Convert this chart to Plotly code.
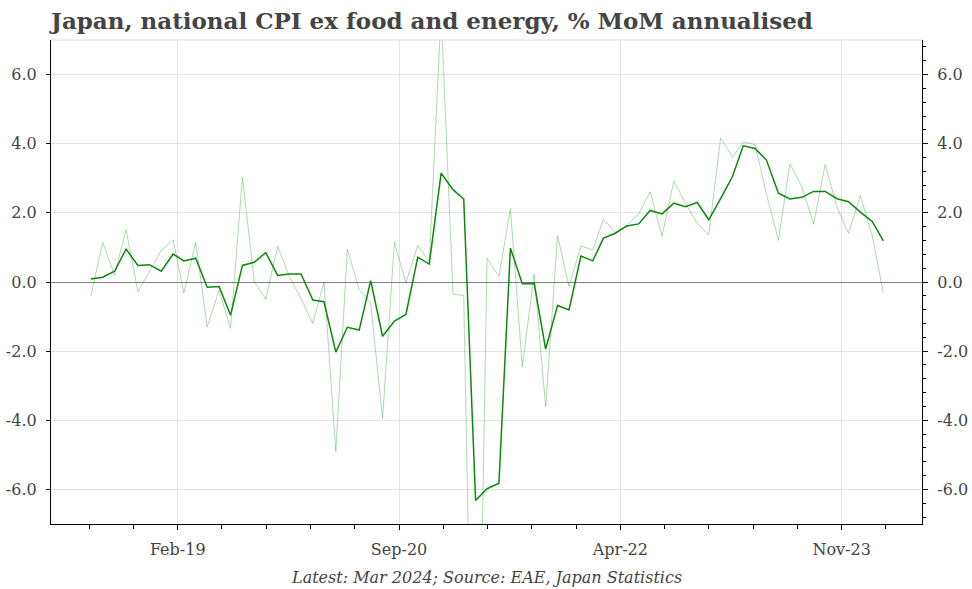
import pandas as pd
import plotly.graph_objects as go

# Monthly data, Jul 2018 .. Mar 2024
start_month = "2018-07-01"
n_months = 69
months = pd.date_range(start_month, periods=n_months, freq="MS")

mom_annualised = [
    -0.41, 1.15, 0.20, 1.51, -0.28, 0.30, 0.91, 1.22, -0.32, 1.15,
    -1.30, -0.24, -1.34, 3.03, 0.02, -0.50, 1.03, 0.17, -0.48, -1.20,
    0.01, -4.90, 0.95, -0.22, -0.60, -3.95, 1.15, -0.02, 1.06, 0.59,
    7.80, -0.35, -0.39, -18.4, 0.69, 0.16, 2.12, -2.45, 0.23, -3.61,
    1.34, -0.12, 1.04, 0.93, 1.82, 1.44, 1.64, 1.97, 2.61, 1.33,
    2.93, 2.28, 1.70, 1.36, 4.17, 3.61, 4.05, 3.97, 2.54, 1.20,
    3.42, 2.76, 1.67, 3.39, 2.17, 1.41, 2.50, 1.34, -0.31,
]
three_month_avg = [
    0.09, 0.14, 0.31, 0.95, 0.48, 0.50, 0.31, 0.81, 0.61, 0.69,
    -0.15, -0.13, -0.96, 0.48, 0.57, 0.85, 0.19, 0.23, 0.23, -0.52,
    -0.57, -2.03, -1.31, -1.39, 0.04, -1.57, -1.13, -0.94, 0.72, 0.52,
    3.15, 2.67, 2.40, -6.32, -5.98, -5.82, 0.98, -0.05, -0.04, -1.94,
    -0.68, -0.81, 0.75, 0.61, 1.27, 1.41, 1.62, 1.68, 2.07, 1.97,
    2.28, 2.18, 2.30, 1.80, 2.41, 3.05, 3.94, 3.86, 3.52, 2.57,
    2.40, 2.45, 2.62, 2.62, 2.41, 2.32, 2.02, 1.75, 1.19,
]

x_tick_labels = ["Feb-19", "Sep-20", "Apr-22", "Nov-23"]
y_tick_values = [-6, -4, -2, 0, 2, 4, 6]
y_tick_labels = ["-6.0", "-4.0", "-2.0", "0.0", "2.0", "4.0", "6.0"]

# tick placement (layout)
tick_origin = pd.Timestamp("2019-02-13")
tick_step = pd.Timedelta(days=115.6)
minor_ticks = [tick_origin + k * tick_step for k in range(-2, 18)]
major_ticks = [tick_origin + k * 5 * tick_step for k in range(4)]

FONT = "'DejaVu Serif', Georgia, serif"
TXT = "#444444"

fig = go.Figure()
fig.add_trace(go.Scatter(
    x=months, y=mom_annualised, mode="lines", yaxis="y2",
    line=dict(color="rgba(0,140,0,0.32)", width=1), hoverinfo="skip",
    showlegend=False,
))
fig.add_trace(go.Scatter(
    x=months, y=three_month_avg, mode="lines",
    line=dict(color="#0a8a0a", width=1.5), showlegend=False,
))

fig.update_layout(
    width=972, height=589,
    margin=dict(l=51, r=50, t=40, b=65, autoexpand=False),
    paper_bgcolor="white", plot_bgcolor="white",
    title=dict(
        text="<b>Japan, national CPI ex food and energy, % MoM annualised</b>",
        x=0, xref="paper", xanchor="left",
        y=1 - 21 / 589, yref="container", yanchor="middle",
        font=dict(family=FONT, size=23, color=TXT),
    ),
    xaxis=dict(
        type="date", range=["2018-03-19", "2024-06-10"], automargin=False,
        tickmode="array", tickvals=major_ticks, ticktext=x_tick_labels,
        ticks="outside", ticklen=5, tickcolor="black",
        showline=True, linecolor="black", linewidth=1.2,
        showgrid=True, gridcolor="#e3e3e3", gridwidth=1,
        minor=dict(tickmode="array", tickvals=minor_ticks, ticks="outside",
                   ticklen=4, tickcolor="black", showgrid=False),
        tickfont=dict(family=FONT, size=16, color=TXT),
        ticklabelstandoff=6,
        zeroline=False,
    ),
    yaxis=dict(
        range=[-7, 7], automargin=False,
        tickmode="array", tickvals=y_tick_values,
        ticktext=y_tick_labels, ticks="outside", ticklen=4, tickcolor="black",
        showline=True, linecolor="black", linewidth=1.2,
        showgrid=True, gridcolor="#e3e3e3", gridwidth=1,
        zeroline=True, zerolinecolor="#808080", zerolinewidth=1.2,
        tickfont=dict(family=FONT, size=16, color=TXT),
        ticklabelstandoff=6,
    ),
    yaxis2=dict(
        range=[-7, 7], overlaying="y", side="right", anchor="x",
        automargin=False,
        tickmode="array", tickvals=y_tick_values, ticktext=y_tick_labels,
        ticks="outside", ticklen=5, tickcolor="black",
        showline=True, linecolor="black", linewidth=1.2,
        showgrid=False, zeroline=False,
        minor=dict(dtick=0.4, tick0=0, ticks="outside", ticklen=3,
                   tickcolor="black", showgrid=False),
        tickfont=dict(family=FONT, size=16, color=TXT),
        ticklabelstandoff=6,
    ),
    shapes=[dict(type="line", xref="paper", yref="paper", x0=0, x1=1,
                 y0=1, y1=1, line=dict(color="#dddddd", width=1))],
    annotations=[dict(
        text="<i>Latest: Mar 2024; Source: EAE, Japan Statistics</i>",
        x=0.5, y=-(577 - 524) / 484, xref="paper", yref="paper",
        xanchor="center", yanchor="middle", showarrow=False,
        font=dict(family=FONT, size=16, color=TXT),
    )],
)

fig.write_html(
    "out.html",
    config={"displayModeBar": False},
    post_script="document.body.style.margin='0';document.body.style.overflow='hidden';",
)
